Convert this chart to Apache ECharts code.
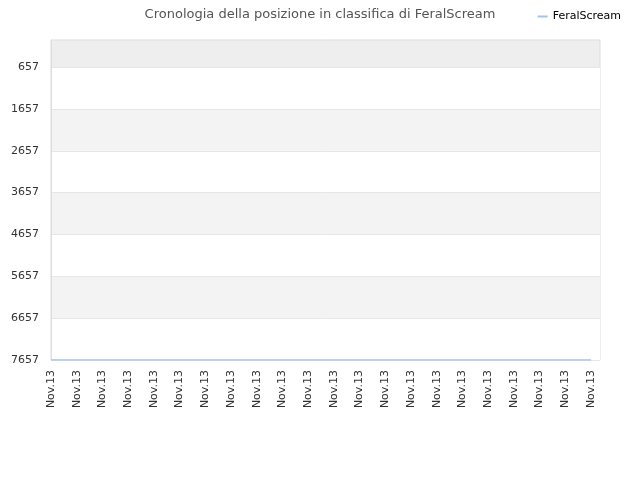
<!DOCTYPE html>
<html>
<head>
<meta charset="utf-8">
<script src="https://cdn.jsdelivr.net/npm/echarts@6/dist/echarts.min.js"></script>
<style>
  html, body { margin: 0; padding: 0; background: #fff; }
  #main { width: 640px; height: 480px; }
</style>
</head>
<body>
<div id="main"></div>
<script>
var dates = ['Nov.13', 'Nov.13', 'Nov.13', 'Nov.13', 'Nov.13', 'Nov.13', 'Nov.13', 'Nov.13',
  'Nov.13', 'Nov.13', 'Nov.13', 'Nov.13', 'Nov.13', 'Nov.13', 'Nov.13', 'Nov.13',
  'Nov.13', 'Nov.13', 'Nov.13', 'Nov.13', 'Nov.13', 'Nov.13'];
var ranks = [7657, 7657, 7657, 7657, 7657, 7657, 7657, 7657, 7657, 7657, 7657,
  7657, 7657, 7657, 7657, 7657, 7657, 7657, 7657, 7657, 7657, 7657];
var yTicks = [657, 1657, 2657, 3657, 4657, 5657, 6657, 7657];

var myChart = echarts.init(document.getElementById('main'));
var points = ranks.map(function (r, i) { return [i, r]; });

var option = {
  animation: false,
  textStyle: { fontFamily: 'DejaVu Sans' },
  title: {
    text: 'Cronologia della posizione in classifica di FeralScream',
    left: 'center',
    top: 3,
    textStyle: { fontSize: 13, fontWeight: 'normal', color: '#555' }
  },
  legend: {
    data: ['FeralScream'],
    right: 14,
    top: 6,
    itemWidth: 10,
    itemHeight: 2,
    itemGap: 6,
    textStyle: { fontSize: 11, color: '#000' }
  },
  grid: {
    left: 51, right: 40, top: 40, bottom: 120,
    show: true,
    backgroundColor: '#eeeeee',
    borderColor: '#dddddd',
    borderWidth: 1
  },
  xAxis: {
    type: 'value',
    min: 0,
    max: 21.35,
    interval: 1,
    axisLine: { show: false },
    axisTick: { show: false },
    splitLine: { show: false },
    axisLabel: {
      rotate: 90,
      fontSize: 11,
      color: '#333',
      margin: 10,
      showMaxLabel: false,
      formatter: function (v) {
        var i = Math.round(v);
        return (Math.abs(v - i) < 1e-6 && dates[i]) ? dates[i] : '';
      }
    }
  },
  yAxis: {
    type: 'value',
    inverse: true,
    min: 10,
    max: 7657,
    axisLine: { show: true, lineStyle: { color: '#dddddd' } },
    axisTick: { show: false, customValues: yTicks },
    axisLabel: {
      customValues: yTicks, fontSize: 11, color: '#333', margin: 12,
      formatter: function (v) { return String(v); }
    },
    splitLine: { show: true, lineStyle: { color: '#e6e6e6' } },
    splitArea: {
      show: true,
      areaStyle: { color: ['#ffffff', '#f3f3f3'] }
    }
  },
  series: [
    {
      name: 'FeralScream',
      type: 'line',
      data: points,
      symbol: 'none',
      lineStyle: { color: '#9fc5ee', width: 1.5 },
      itemStyle: { color: '#9fc5ee' }
    }
  ]
};
myChart.setOption(option);
</script>
</body>
</html>
